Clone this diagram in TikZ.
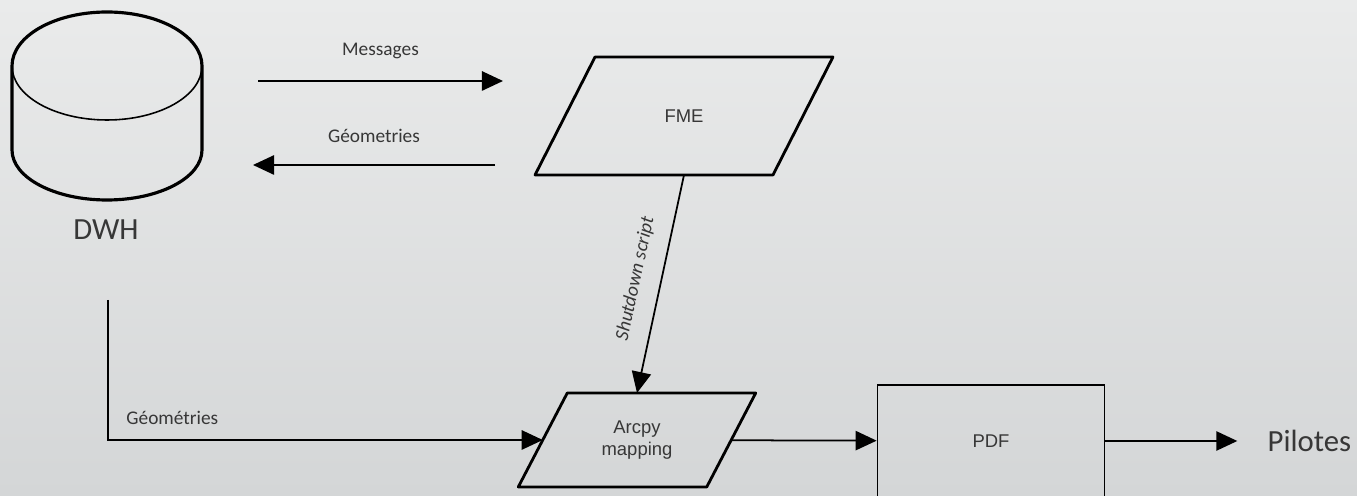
\documentclass[tikz,border=0pt]{standalone}
\usepackage{fontspec}
\setmainfont{Carlito}
\newfontfamily\arialfont{Liberation Sans}
\usetikzlibrary{positioning}
\usetikzlibrary{calc}
\usetikzlibrary{arrows.meta}

\definecolor{bgtop}{RGB}{234,235,235}
\definecolor{bgbot}{RGB}{212,214,215}
\definecolor{txt}{RGB}{55,55,55}

\tikzset{
  flow/.style={-{Triangle[length=12pt,width=11pt]}, line width=1pt},
  para/.style={inner sep=0pt, outer sep=0pt, align=center, text=txt,
    font=\arialfont\fontsize{10.5}{13}\selectfont},
  paraline/.style={line width=1.6pt, line join=round},
  lbl/.style={text=txt, font=\fontsize{11}{13}\selectfont},
  biglbl/.style={text=txt, font=\fontsize{17.5}{20}\selectfont},
}

\begin{document}
\begin{tikzpicture}[x=0.02cm, y=0.02cm]
\shade[top color=bgtop, bottom color=bgbot] (0,0) rectangle (1357,496);
\useasboundingbox (0,0) rectangle (1357,496);
\clip (0,0) rectangle (1357,496);

% DWH cylinder
\draw[line width=1.8pt] (12,430) -- (12,346)
  arc[start angle=180, end angle=360, x radius=95, y radius=50] -- (202,430)
  arc[start angle=0, end angle=180, x radius=95, y radius=54] -- cycle;
\draw[line width=0.9pt] (12,430) arc[start angle=180, end angle=360, x radius=95, y radius=54];
\node[biglbl] (dwh) at (106,266) {DWH};

% FME
\node[para, minimum width=4.76cm, minimum height=2.36cm] (fme) at (684,380) {FME};
\draw[paraline] ($(fme.south west)+(-30,0)$) -- ($(fme.north west)+(30,0)$)
  -- ($(fme.north east)+(30,0)$) -- ($(fme.south east)+(-30,0)$) -- cycle;

% Arcpy
\node[para, minimum width=3.77cm, minimum height=1.88cm] (arcpy) at (637,56) {Arcpy\\mapping};
\draw[paraline] ($(arcpy.south west)+(-24.5,0)$) -- ($(arcpy.north west)+(24.5,0)$)
  -- ($(arcpy.north east)+(24.5,0)$) -- ($(arcpy.south east)+(-24.5,0)$) -- cycle;

\node[draw, line width=1pt, minimum width=4.54cm, minimum height=2.24cm, text=txt,
  font=\arialfont\fontsize{10.5}{13}\selectfont] (pdf) at (991,55) {PDF};
\node[biglbl, inner xsep=0.6cm, right=2.64cm of pdf] (pilotes) {Pilotes};

\coordinate (msgA) at (258,415);
\coordinate (msgB) at (503,415);
\coordinate (geoA) at (495,331);
\coordinate (geoB) at (253,331);
\coordinate (dwhout) at (108,196);

\draw[flow] (msgA) -- node[lbl, above=9pt] {Messages} (msgB);
\draw[flow] (geoA) -- node[lbl, above=9pt] {Géometries} (geoB);
\draw[flow] (fme.south) -- node[lbl, sloped, above=6pt, font=\itshape\fontsize{11}{13}\selectfont] {Shutdown script} (arcpy.north);
\draw[flow] (dwhout) |- node[lbl, pos=0.574, above=5pt] {Géométries} (arcpy);
\draw[flow] (arcpy) -- (pdf);
\draw[flow] (pdf) -- (pilotes);
\end{tikzpicture}
\end{document}
